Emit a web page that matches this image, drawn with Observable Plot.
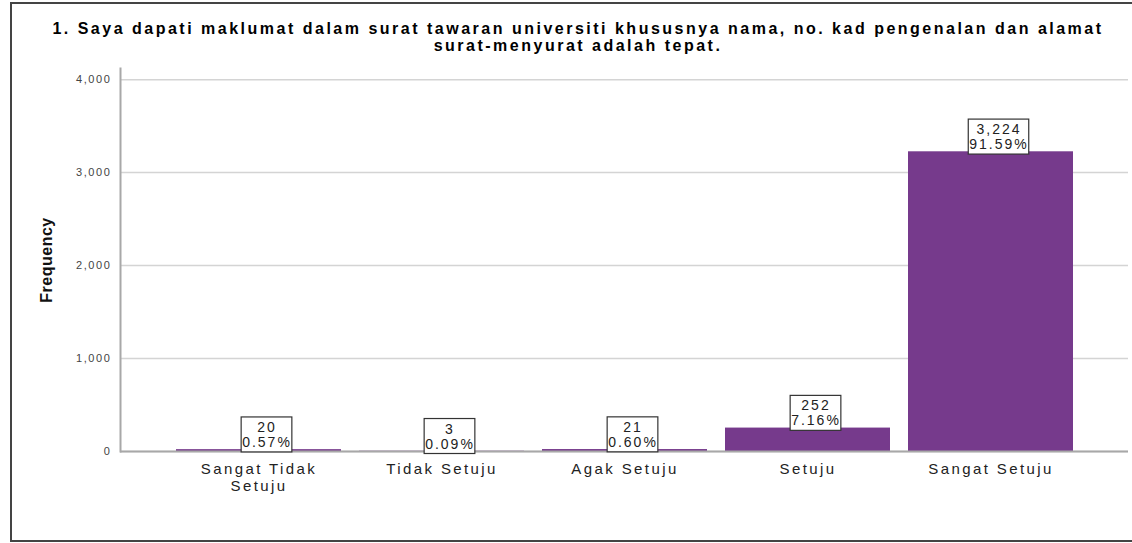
<!DOCTYPE html>
<html>
<head>
<meta charset="utf-8">
<script src="https://cdn.jsdelivr.net/npm/d3@7"></script>
<script src="https://cdn.jsdelivr.net/npm/@observablehq/plot@0.6"></script>
<style>
  html, body { margin: 0; padding: 0; width: 1132px; height: 543px; overflow: hidden; background: #fff; }
  body { font-family: "Liberation Sans", Arial, sans-serif; position: relative; }
  #border { position: absolute; left: 10px; top: 2px; width: 1150px; height: 540px; box-sizing: border-box; border: 2px solid #444; }
  #title { position: absolute; left: 24px; top: 20px; width: 1108px; text-align: center; font-weight: bold; font-size: 16px; line-height: 17px; letter-spacing: 2.5px; color: #000; }
  #chart { position: absolute; left: 0; top: 56px; }
  g[aria-label="x-axis tick label"] text { letter-spacing: 2.4px; }
  g[aria-label="y-axis tick label"] text { letter-spacing: 1.6px; }
</style>
</head>
<body>
<div id="border"></div>
<div id="title">1. Saya dapati maklumat dalam surat tawaran universiti khususnya nama, no. kad pengenalan dan alamat<br>surat-menyurat adalah tepat.</div>
<div id="chart"></div>
<script>
// ---- data ----
const categories = ["Sangat Tidak Setuju", "Tidak Setuju", "Agak Setuju", "Setuju", "Sangat Setuju"];
const tickLabels = ["Sangat Tidak\nSetuju", "Tidak Setuju", "Agak Setuju", "Setuju", "Sangat Setuju"];
const frequencies = [20, 3, 21, 252, 3224];
const yTicks = [0, 1000, 2000, 3000, 4000];
const yLabel = "Frequency";

const total = d3.sum(frequencies);
const data = categories.map((c, i) => ({
  category: c,
  value: frequencies[i],
  label: d3.format(",")(frequencies[i]) + "\n" + (frequencies[i] / total * 100).toFixed(2) + "%"
}));

const chart = Plot.plot({
  width: 1132,
  height: 480,
  marginTop: 12,
  marginBottom: 85,
  marginLeft: 120,
  marginRight: 4,
  style: { fontFamily: "'Liberation Sans', Arial, sans-serif", background: "transparent", overflow: "visible" },
  x: { domain: categories, paddingInner: 0.1, paddingOuter: 0.3, label: null },
  y: { domain: [0, 4120], label: null },
  marks: [
    Plot.gridY(yTicks, { stroke: "#d4d4d4", strokeOpacity: 1, strokeWidth: 1.5 }),
    Plot.frame({ anchor: "left", stroke: "#a8a8a8", strokeWidth: 2 }),
    Plot.axisY(yTicks, { tickSize: 0, tickPadding: 9, fontSize: 11, fill: "#444", tickFormat: d3.format(","), label: null }),
    Plot.axisX({ tickSize: 0, tickPadding: 11, fontSize: 15, lineHeight: 1.1, fill: "#222", tickFormat: (d) => tickLabels[categories.indexOf(d)], label: null }),
    Plot.barY(data, { x: "category", y: "value", fill: "#763a8c" }),
    Plot.ruleY([0], { stroke: "#a8a8a8", strokeWidth: 2 }),
    Plot.text([yLabel], { frameAnchor: "left", textAnchor: "middle", rotate: -90, dx: -74, fontSize: 16, fontWeight: "bold", fill: "#111" }),
    Plot.text(data, { x: "category", y: "value", text: "label", lineAnchor: "middle", dy: -15, dx: 8, fontSize: 14, lineHeight: 1.07, fill: "#222" })
  ]
});

document.getElementById("chart").appendChild(chart);

// draw a white box with a dark outline behind each value label, sized from the rendered text
d3.select(chart).selectAll("text")
  .filter(function () { return this.textContent.includes("%"); })
  .each(function () {
    this.style.letterSpacing = "2px";
    const bb = this.getBBox();
    const rect = document.createElementNS("http://www.w3.org/2000/svg", "rect");
    const padX = 1, padY = 2;
    rect.setAttribute("x", bb.x - padX);
    rect.setAttribute("y", bb.y - padY);
    rect.setAttribute("width", bb.width + padX * 2 - 1);
    rect.setAttribute("height", bb.height + padY * 2);
    rect.setAttribute("fill", "#fff");
    rect.setAttribute("stroke", "#333");
    rect.setAttribute("stroke-width", "1.2");
    const t = this.getAttribute("transform");
    if (t) rect.setAttribute("transform", t);
    this.parentNode.insertBefore(rect, this);
  });
d3.select(chart).selectAll("text")
  .filter(function () { return this.textContent === yLabel; })
  .style("letter-spacing", "0.5px");
</script>
</body>
</html>
